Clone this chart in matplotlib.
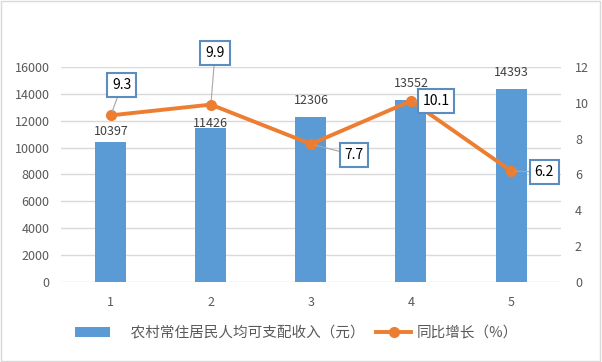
import matplotlib
matplotlib.use('Agg')
import matplotlib.pyplot as plt
from matplotlib.patches import Rectangle

plt.rcParams['font.family'] = ['Noto Sans CJK SC', 'DejaVu Sans']

years = ['1', '2', '3', '4', '5']
income = [10397, 11426, 12306, 13552, 14393]
growth = [9.3, 9.9, 7.7, 10.1, 6.2]
bar_name = '农村常住居民人均可支配收入（元）'
line_name = '同比增长（%）'

# label box offsets in points (relative to each line point)
box_off = [(8, 22), (3, 37), (31, -8), (18, 0), (24, -1)]
bar_off = [3, -1, 7, 7, 7]

fig = plt.figure(figsize=(6.02, 3.62), dpi=100)
ax = fig.add_axes([0.101, 0.221, 0.831, 0.594])
ax2 = ax.twinx()

x = list(range(1, 6))
bars = ax.bar(x, income, width=0.31, color='#5B9BD5', zorder=2, label=bar_name)
ax.set_ylim(0, 16000)
ax.set_yticks(range(0, 16001, 2000))
ax.set_xlim(0.5, 5.5)
ax.set_xticks(x)
ax.set_xticklabels(years)
ax.grid(axis='y', color='#D9D9D9', lw=1, zorder=0)
ax.set_axisbelow(True)

for i, v in enumerate(income):
    ax.annotate(str(v), (x[i], v), xytext=(0, bar_off[i]), textcoords='offset points',
                ha='center', va='bottom', fontsize=9, color='#404040')

ln, = ax2.plot(x, growth, color='#ED7D31', lw=2.8, marker='o', ms=7, zorder=3, label=line_name)
ax2.set_ylim(0, 12)
ax2.set_yticks(range(0, 13, 2))

for i, g in enumerate(growth):
    ax2.annotate(f'{g}', (x[i], g), xytext=box_off[i], textcoords='offset points',
                 ha='center', va='center', fontsize=10, color='black',
                 bbox=dict(boxstyle='square,pad=0.35', fc='white', ec='#5B8DBE', lw=1.5),
                 arrowprops=dict(arrowstyle='-', color='#A6A6A6', lw=0.8, shrinkA=0, shrinkB=3))

for a in (ax, ax2):
    for s in a.spines.values():
        s.set_visible(False)
    a.tick_params(length=0, labelsize=9, colors='#595959')
ax.tick_params(axis='y', pad=8)
ax2.tick_params(axis='y', pad=10)
ax.tick_params(axis='x', pad=10)

fig.legend(handles=[bars, ln], labels=['\u3000' + bar_name, line_name], loc='center',
           bbox_to_anchor=(0.4925, 0.08), ncol=2, frameon=False, fontsize=10.5,
           handlelength=2.4, handletextpad=0.4, columnspacing=0.8,
           labelcolor='#595959')

fig.add_artist(Rectangle((0.002, 0.003), 0.995, 0.994, transform=fig.transFigure,
                         fill=False, ec='#D9D9D9', lw=1))

fig.savefig('out.png', dpi=100)
